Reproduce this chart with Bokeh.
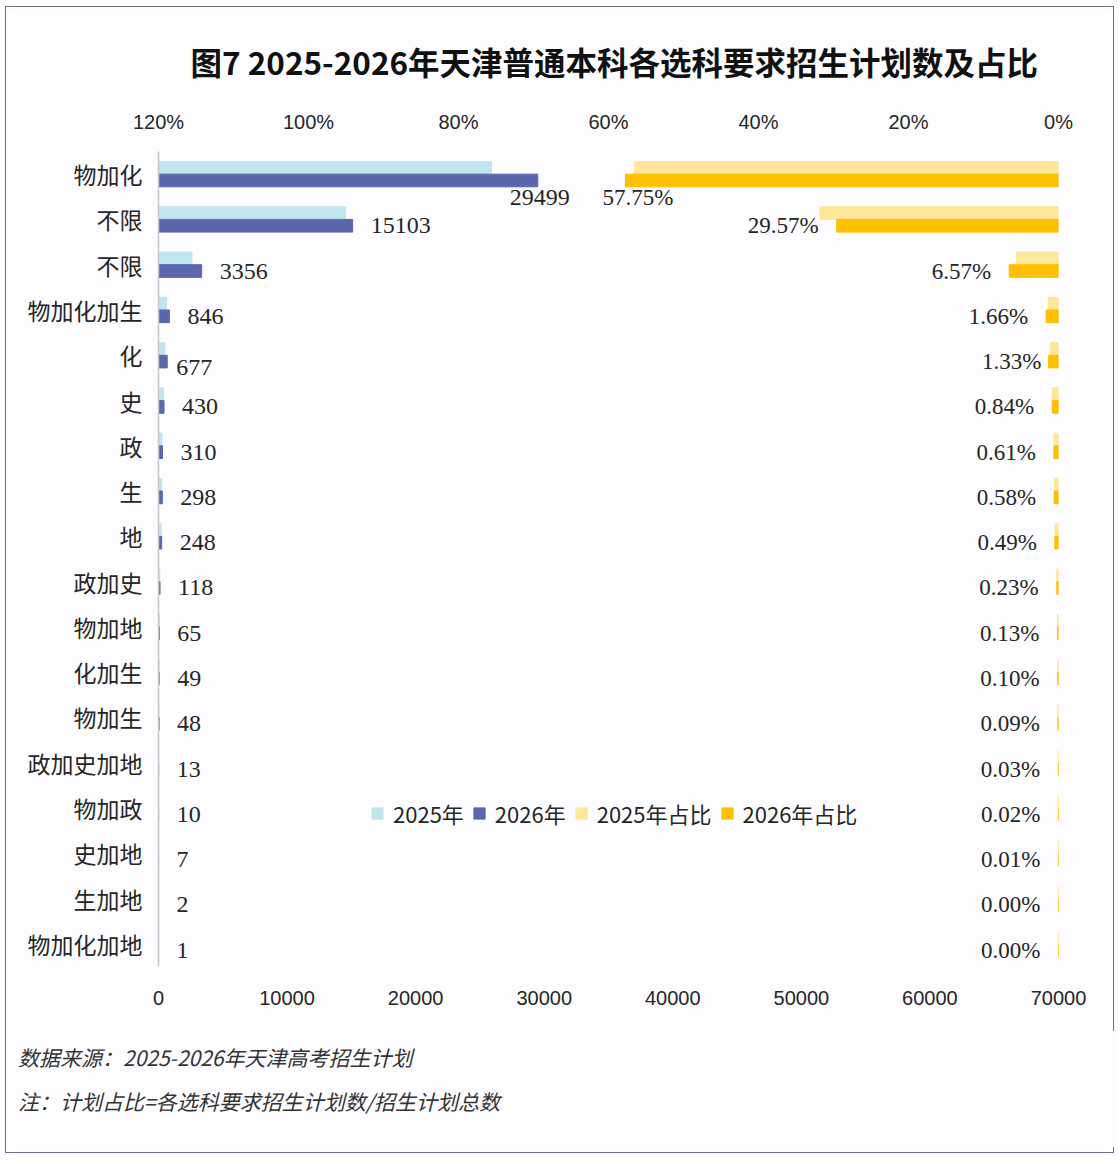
from bokeh.plotting import figure
from bokeh.models import (Range1d, LinearAxis, FixedTicker, ColumnDataSource,
                          Div, Legend, LegendItem)
from bokeh.layouts import column
from bokeh.embed import file_html
from bokeh.resources import INLINE

# ---------------- data ----------------
categories = ["物加化", "不限", "不限", "物加化加生", "化", "史", "政", "生", "地",
              "政加史", "物加地", "化加生", "物加生", "政加史加地", "物加政",
              "史加地", "生加地", "物加化加地"]
count_2025 = [25900, 14550, 2600, 620, 500, 380, 270, 260, 210, 100, 60, 45, 40, 12, 8, 5, 2, 1]
count_2026 = [29499, 15103, 3356, 846, 677, 430, 310, 298, 248, 118, 65, 49, 48, 13, 10, 7, 2, 1]
share_2025 = [56.5, 31.8, 5.6, 1.35, 1.1, 0.83, 0.6, 0.57, 0.46, 0.22, 0.13, 0.1, 0.09,
              0.03, 0.02, 0.01, 0.0, 0.0]
share_2026 = [57.75, 29.57, 6.57, 1.66, 1.33, 0.84, 0.61, 0.58, 0.49, 0.23, 0.13, 0.10,
              0.09, 0.03, 0.02, 0.01, 0.00, 0.00]
count_ticks = [0, 10000, 20000, 30000, 40000, 50000, 60000, 70000]
pct_ticks = [0, 20, 40, 60, 80, 100, 120]
source_note = "数据来源：2025-2026年天津高考招生计划"
ratio_note = "注：计划占比=各选科要求招生计划数/招生计划总数"

# ---------------- style ----------------
C25 = "#bfe6ec"
C26 = "#5b67ad"
S25 = "#ffe699"
S26 = "#ffc000"
TXT = "#262626"
BG = "#fdfdff"
CJK = "Noto Sans CJK SC"
NUM = "Liberation Serif"
BAR_H = 0.28
OFF = 0.14

n = len(categories)
rows = list(range(1, n + 1))

# label nudges (pixels) for a few labels moved in the original
count_nudge = {0: (-46, 17), 4: (-9, 6)}
pct_nudge = {0: (66, 17), 4: (11, 0)}

src = ColumnDataSource(dict(
    y25=[r - OFF for r in rows],
    y26=[r + OFF for r in rows],
    c25=count_2025, c26=count_2026,
    s25=share_2025, s26=share_2026,
    ctext=[str(v) for v in count_2026],
    stext=[f"{v:.2f}%" for v in share_2026],
    cdx=[18 + count_nudge.get(i, (0, 0))[0] for i in range(n)],
    cdy=[count_nudge.get(i, (0, 0))[1] for i in range(n)],
    sdx=[-18 + pct_nudge.get(i, (0, 0))[0] for i in range(n)],
    sdy=[pct_nudge.get(i, (0, 0))[1] for i in range(n)],
))

p = figure(frame_width=900, frame_height=815,
           min_border_left=152, min_border_right=54,
           min_border_top=144, min_border_bottom=60,
           x_range=Range1d(0, 70000), y_range=Range1d(n + 0.5, 0.5),
           output_backend="svg", toolbar_location=None,
           background_fill_color=BG, border_fill_color=BG)
p.extra_x_ranges = {"pct": Range1d(120, 0)}
p.xgrid.visible = False
p.ygrid.visible = False
p.outline_line_color = None

# title
p.title.text = "图7  2025-2026年天津普通本科各选科要求招生计划数及占比"
p.title.align = "left"
p.title.offset = 32
p.title.text_font = CJK
p.title.text_font_size = "31.5px"
p.title.text_font_style = "bold"
p.title.text_color = "#111111"
p.title.standoff = 47

# bars
r25 = p.hbar(y="y25", left=0, right="c25", height=BAR_H, color=C25, source=src)
r26 = p.hbar(y="y26", left=0, right="c26", height=BAR_H, color=C26, source=src)
q25 = p.hbar(y="y25", left=0, right="s25", height=BAR_H, color=S25, source=src, x_range_name="pct")
q26 = p.hbar(y="y26", left=0, right="s26", height=BAR_H, color=S26, source=src, x_range_name="pct")

# data labels
p.text(x="c26", y="y26", text="ctext", x_offset="cdx", y_offset="cdy", source=src,
       text_font={"value": NUM}, text_font_size="24px",
       text_color=TXT, text_align="left", text_baseline="middle")
p.text(x="s26", y="y26", text="stext", x_offset="sdx", y_offset="sdy", source=src,
       x_range_name="pct", text_font={"value": NUM}, text_font_size="23px",
       text_color=TXT, text_align="right", text_baseline="middle")

# bottom axis (counts)
xa = p.xaxis[0]
xa.ticker = FixedTicker(ticks=count_ticks)
xa.axis_line_color = None
xa.major_tick_line_color = None
xa.minor_tick_line_color = None
xa.major_label_standoff = 18
xa.major_label_text_font = "Liberation Sans"
xa.major_label_text_font_size = "20px"
xa.major_label_text_color = TXT

# top axis (shares)
ta = LinearAxis(x_range_name="pct", ticker=FixedTicker(ticks=pct_ticks),
                major_label_overrides={t: f"{t}%" for t in pct_ticks})
ta.axis_line_color = None
ta.major_tick_line_color = None
ta.minor_tick_line_color = None
ta.major_label_standoff = 13
ta.major_label_text_font = "Liberation Sans"
ta.major_label_text_font_size = "20px"
ta.major_label_text_color = TXT
p.add_layout(ta, "above")

# left axis (categories)
ya = p.yaxis[0]
ya.ticker = FixedTicker(ticks=rows)
ya.major_label_overrides = {r: c for r, c in zip(rows, categories)}
ya.axis_line_color = "#c3c7d0"
ya.axis_line_width = 1.5
ya.major_tick_line_color = None
ya.minor_tick_line_color = None
ya.major_label_standoff = 10
ya.major_label_text_font = CJK
ya.major_label_text_font_size = "23px"
ya.major_label_text_color = TXT

# legend
legend = Legend(items=[
    LegendItem(label="2025年", renderers=[r25]),
    LegendItem(label="2026年", renderers=[r26]),
    LegendItem(label="2025年占比", renderers=[q25]),
    LegendItem(label="2026年占比", renderers=[q26]),
], orientation="horizontal", location=(212, 137), padding=0, margin=0,
   spacing=8, label_standoff=9, glyph_width=14, glyph_height=14,
   label_text_font=CJK, label_text_font_size="22px", label_text_color=TXT,
   border_line_color=None, background_fill_alpha=0)
p.add_layout(legend)

# footnotes
note_style = ("font-family:'Noto Sans CJK SC';font-style:italic;font-size:21px;"
              "color:#333333;line-height:44px;margin:0;padding:0;white-space:nowrap;")
foot = Div(text=(f"<div style=\"{note_style}padding-top:4px;padding-left:7px\">"
                 f"{source_note}<br>{ratio_note}</div>"),
           width=1106, height=116,
           styles={"background-color": BG})

layout = column(p, foot, spacing=0, width=1109)
layout.styles = {"border": "1.5px solid #6b6f98", "margin-left": "5px", "margin-top": "6px",
                 "background-color": BG, "width": "1109px", "box-sizing": "border-box"}

open("out.html", "w").write(file_html(layout, INLINE))
